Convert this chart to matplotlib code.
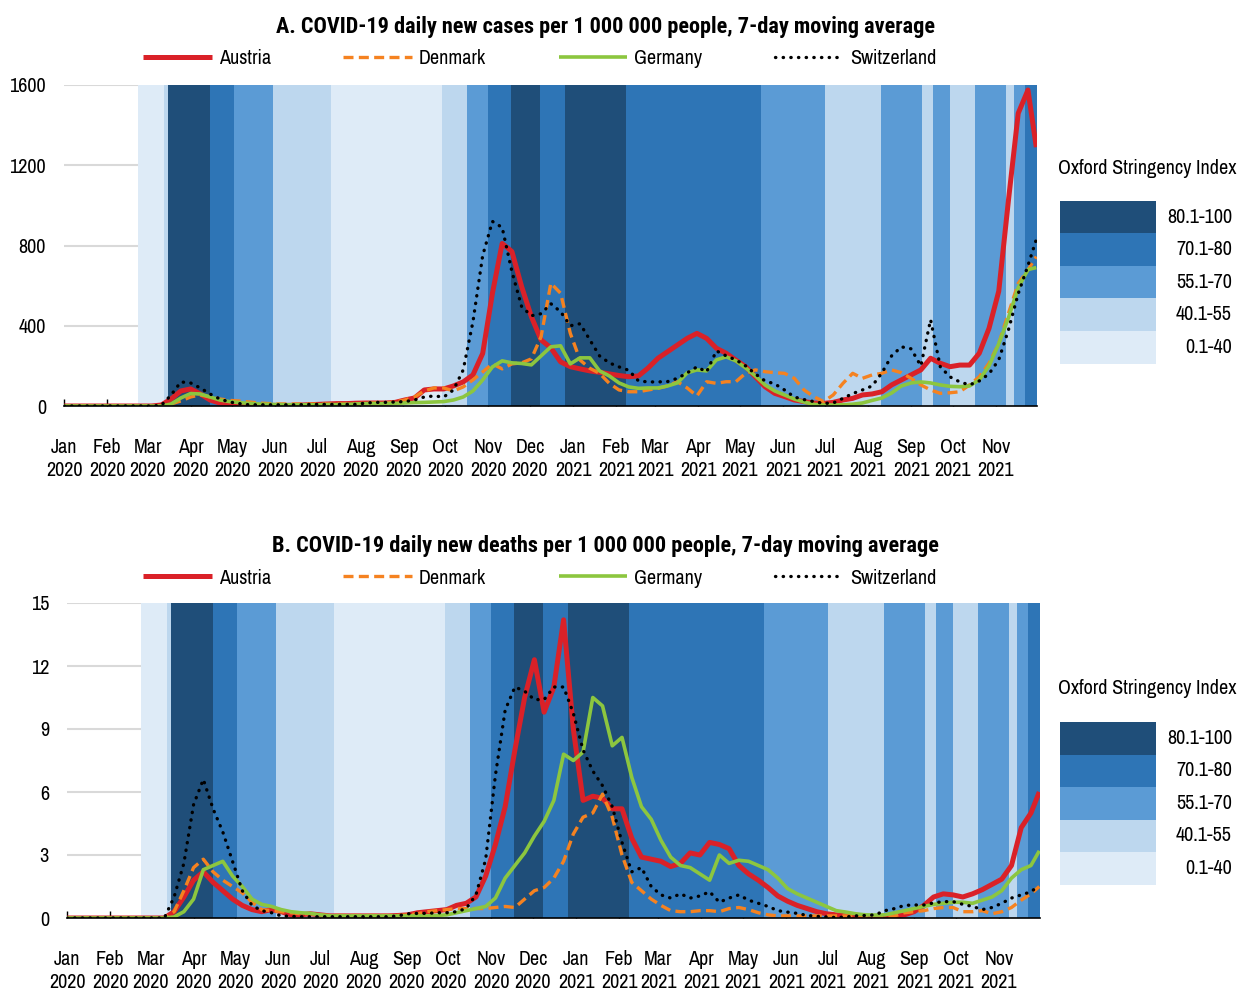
import numpy as np
import pandas as pd
import matplotlib
matplotlib.use('Agg')
import matplotlib.pyplot as plt
from matplotlib import font_manager
from matplotlib.patches import Rectangle

fonts = font_manager.fontManager.ttflist
names = {f.name for f in fonts}
bold_names = {f.name for f in fonts if f.weight in (600, 700, 800, 'bold', 'semibold')}
cands = ['Arial Narrow', 'Liberation Sans Narrow', 'Archivo Narrow',
         'Roboto Condensed', 'PT Sans Narrow', 'Pragati Narrow']
narrow = [n for n in cands if n in names]
narrow_bold = [n for n in cands if n in bold_names]
if narrow:
    plt.rcParams['font.family'] = [narrow[0], 'DejaVu Sans']
    fs = 14.5
else:
    plt.rcParams['font.family'] = ['Liberation Sans', 'DejaVu Sans']
    fs = 11.5
title_family = [(narrow_bold or narrow or ['Liberation Sans'])[0], 'DejaVu Sans']

# weekly dates (from 1 Jan 2020) plus the last day shown
dates = pd.date_range('2020-01-01', periods=100, freq='7D').append(pd.DatetimeIndex(['2021-11-30']))

# A. daily new cases per 1 000 000 people
cases_austria = [0,0,0,0,0,0,0,0,0,0,
                 5,35,75,85,60,30,15,8,5,4,
                 3,3,3,3,4,6,8,10,12,12,
                 14,15,15,15,18,30,40,80,85,85,
                 100,120,155,262,562,810,770,595,445,329,
                 290,220,196,185,175,168,160,152,146,150,
                 190,238,271,304,337,362,337,288,263,229,
                 196,146,96,63,47,30,22,15,13,18,
                 30,38,55,60,71,105,130,155,180,238,
                 213,196,204,204,263,387,572,1027,1459,1575,
                 1290]
cases_denmark = [0,0,0,0,0,0,0,0,0,0,
                 0,10,25,45,55,45,35,28,25,20,
                 15,12,10,10,10,10,10,10,10,10,
                 10,15,15,15,20,30,45,75,90,90,
                 75,95,130,170,210,185,210,215,235,346,
                 612,562,362,229,188,163,113,80,71,71,
                 80,88,100,121,90,50,121,113,121,121,
                 163,180,171,166,163,138,80,47,22,55,
                 113,163,138,155,163,180,166,138,105,80,
                 63,66,71,105,146,213,312,462,611,678,
                 745]
cases_germany = [0,0,0,0,0,0,0,0,0,0,
                 0,10,40,62,60,45,30,22,17,13,
                 10,8,7,6,6,6,6,7,7,8,
                 10,12,12,12,13,15,17,18,20,22,
                 30,45,75,130,195,225,215,212,205,250,
                 295,300,210,240,240,175,150,115,95,88,
                 90,90,100,115,165,180,175,230,245,225,
                 190,150,105,75,55,35,20,8,5,5,
                 6,9,15,28,40,65,100,115,120,115,
                 105,98,96,100,130,200,310,440,590,680,
                 690]
cases_switzerland = [0,0,0,0,0,0,0,0,0,0,
                     3,55,120,115,90,60,35,20,12,6,
                     6,6,6,6,6,8,8,8,8,8,
                     8,15,18,18,20,22,30,45,50,45,
                     80,180,420,750,920,890,670,495,450,460,
                     510,470,400,410,330,250,215,195,178,125,
                     120,120,122,138,165,195,170,275,250,230,
                     200,160,125,110,80,45,32,22,13,15,
                     38,62,80,100,165,250,295,285,200,430,
                     195,145,120,105,125,160,230,380,560,700,
                     830]

# B. daily new deaths per 1 000 000 people
deaths_austria = [0,0,0,0,0,0,0,0,0,0,
                  0,0.3,1.0,1.8,2.2,1.7,1.3,0.9,0.6,0.4,
                  0.3,0.4,0.3,0.15,0.15,0.2,0.15,0.1,0.1,0.1,
                  0.1,0.1,0.1,0.1,0.12,0.15,0.25,0.3,0.35,0.4,
                  0.6,0.7,1.0,2.0,3.5,5.3,8.0,10.5,12.3,9.8,
                  11.0,14.2,9.0,5.6,5.8,5.7,5.2,5.2,3.8,2.9,
                  2.8,2.7,2.45,2.6,3.1,3.0,3.6,3.5,3.3,2.5,
                  2.1,1.8,1.45,1.05,0.8,0.6,0.45,0.3,0.2,0.15,
                  0.1,0.06,0.06,0.06,0.06,0.08,0.15,0.3,0.6,1.0,
                  1.15,1.1,1.0,1.15,1.35,1.6,1.85,2.5,4.3,5.0,
                  6.0]
deaths_denmark = [0,0,0,0,0,0,0,0,0,0,
                  0,0.3,1.3,2.4,2.8,2.2,1.8,1.5,1.2,0.75,
                  0.4,0.35,0.3,0.25,0.2,0.2,0.15,0.12,0.12,0.12,
                  0.12,0.12,0.12,0.12,0.12,0.15,0.2,0.3,0.35,0.4,
                  0.45,0.45,0.45,0.45,0.5,0.55,0.5,0.9,1.3,1.45,
                  1.9,2.7,4.0,4.8,5.0,5.9,4.8,3.0,1.7,1.3,
                  0.9,0.6,0.35,0.3,0.3,0.35,0.35,0.3,0.45,0.5,
                  0.4,0.25,0.15,0.1,0.1,0.1,0.1,0.1,0.1,0.1,
                  0.1,0.1,0.1,0.1,0.1,0.1,0.25,0.3,0.35,0.45,
                  0.5,0.5,0.3,0.3,0.35,0.2,0.3,0.5,0.85,1.15,
                  1.5]
deaths_germany = [0,0,0,0,0,0,0,0,0,0,
                  0,0.05,0.3,0.9,2.3,2.5,2.7,2.0,1.5,0.9,
                  0.65,0.55,0.4,0.3,0.25,0.22,0.15,0.1,0.1,0.1,
                  0.1,0.1,0.1,0.1,0.1,0.1,0.1,0.1,0.12,0.15,
                  0.25,0.35,0.45,0.55,0.95,1.9,2.5,3.1,3.9,4.6,
                  5.6,7.8,7.5,7.9,10.5,10.1,8.2,8.6,6.7,5.3,
                  4.7,3.7,2.9,2.5,2.4,2.1,1.8,3.0,2.6,2.75,
                  2.7,2.5,2.3,1.9,1.4,1.15,0.95,0.75,0.55,0.35,
                  0.28,0.2,0.15,0.14,0.15,0.25,0.35,0.45,0.55,0.65,
                  0.7,0.75,0.75,0.7,0.85,1.0,1.3,1.9,2.3,2.5,
                  3.2]
deaths_switzerland = [0,0,0,0,0,0,0,0,0,0,
                      0,1.0,2.6,5.4,6.6,5.2,4.1,2.7,1.3,0.6,
                      0.35,0.25,0.1,0.08,0.06,0.06,0.06,0.06,0.06,0.06,
                      0.06,0.06,0.06,0.06,0.1,0.2,0.22,0.22,0.25,0.25,
                      0.3,0.45,1.1,2.8,6.8,9.9,11.0,10.8,10.4,10.4,
                      11.0,11.0,9.75,8.0,7.0,6.3,5.3,3.6,2.2,2.4,
                      1.5,1.1,0.95,1.15,0.95,1.05,1.25,0.75,0.95,1.1,
                      0.85,0.7,0.55,0.35,0.28,0.22,0.12,0.08,0.05,0.02,
                      0.05,0.1,0.12,0.15,0.35,0.45,0.6,0.62,0.62,0.72,
                      0.78,0.78,0.65,0.55,0.4,0.5,0.7,0.95,1.1,1.25,
                      1.55]

# Oxford stringency index bands (start dates and level 1..5)
band_start = ['2020-02-23','2020-03-13','2020-03-16','2020-04-15','2020-05-02','2020-05-30',
              '2020-07-11','2020-09-29','2020-10-17','2020-11-01','2020-11-17','2020-12-08',
              '2020-12-26','2021-02-08','2021-05-16','2021-07-01','2021-08-10','2021-09-09',
              '2021-09-17','2021-09-29','2021-10-17','2021-11-08','2021-11-14','2021-11-22']
band_level = [1,2,5,4,3,2,1,2,3,4,5,4,5,4,3,2,3,2,3,2,3,2,3,4]
band_end = '2021-11-30 12:00'
level_labels = ['0.1-40', '40.1-55', '55.1-70', '70.1-80', '80.1-100']
level_colors = ['#DEEBF7', '#BDD7EE', '#5B9BD5', '#2E75B6', '#1F4E79']

countries = ['Austria', 'Denmark', 'Germany', 'Switzerland']
styles = [dict(color='#DA2128', lw=3.6, ls='-', zorder=4),
          dict(color='#F58220', lw=2.4, ls=(0, (3, 1.6)), zorder=5),
          dict(color='#8CC63F', lw=2.6, ls='-', zorder=6),
          dict(color='black', lw=2.4, ls=(0, (0.1, 2.2)), dash_capstyle='round', zorder=7)]

fig = plt.figure(figsize=(12.39, 9.9), dpi=100)
W, H = 1239, 990


def panel(rect, series, ymax, ystep, title, title_y, leg_y, side_title_y, box_top):
    ax = fig.add_axes([rect[0] / W, 1 - rect[3] / H, (rect[2] - rect[0]) / W, (rect[3] - rect[1]) / H])
    ends = band_start[1:] + [band_end]
    for s, e, lv in zip(band_start, ends, band_level):
        ax.axvspan(pd.Timestamp(s), pd.Timestamp(e), color=level_colors[lv - 1], lw=0, zorder=1)
    lines = []
    for name, vals, st in zip(countries, series, styles):
        ln, = ax.plot(dates, vals, label=name, solid_capstyle='butt', **st)
        lines.append(ln)
    ax.set_xlim(pd.Timestamp('2020-01-01'), pd.Timestamp(band_end))
    ax.set_ylim(0, ymax)
    ax.set_yticks(np.arange(0, ymax + ystep / 2, ystep))
    ax.yaxis.grid(True, color='#D9D9D9', lw=1.5, zorder=0)
    ax.set_axisbelow(True)
    months = pd.date_range('2020-01-01', '2021-11-01', freq='MS')
    ax.set_xticks(months)
    ax.set_xticklabels([f'{m:%b}\n{m:%Y}' for m in months], fontsize=fs, linespacing=1.25)
    ax.tick_params(axis='x', direction='in', length=5, width=1, pad=23, color='black')
    ax.tick_params(axis='y', length=0, pad=13, labelsize=fs)
    for sp in ['left', 'right', 'top']:
        ax.spines[sp].set_visible(False)
    ax.spines['bottom'].set_color('black')
    ax.spines['bottom'].set_linewidth(1.2)
    ax.spines['bottom'].set_zorder(8)

    fig.text(605 / W, 1 - title_y / H, title, ha='center', va='center',
             fontsize=fs + 1.5, fontweight='bold', family=title_family)
    fig.legend(handles=lines, loc='center', bbox_to_anchor=(540 / W, 1 - leg_y / H),
               ncol=4, frameon=False, fontsize=fs, handlelength=3.4, handletextpad=0.35,
               columnspacing=3.6)

    # stringency legend
    fig.text(1147 / W, 1 - side_title_y / H, 'Oxford Stringency Index', ha='center',
             va='center', fontsize=fs)
    bh = 32.5
    for i in range(5):
        lv = 4 - i
        top = box_top + i * bh
        fig.patches.append(Rectangle((1060 / W, 1 - (top + bh) / H), 96 / W, bh / H,
                                     transform=fig.transFigure, color=level_colors[lv], lw=0))
        fig.text(1232 / W, 1 - (top + bh / 2) / H, level_labels[lv], ha='right',
                 va='center', fontsize=fs)
    return ax


panel((64, 85, 1037, 406), [cases_austria, cases_denmark, cases_germany, cases_switzerland],
      1600, 400, 'A. COVID-19 daily new cases per 1 000 000 people, 7-day moving average',
      27, 59, 168, 201)
panel((67, 603, 1040, 918), [deaths_austria, deaths_denmark, deaths_germany, deaths_switzerland],
      15, 3, 'B. COVID-19 daily new deaths per 1 000 000 people, 7-day moving average',
      546, 578, 689, 722)

fig.savefig('out.png', dpi=100)
